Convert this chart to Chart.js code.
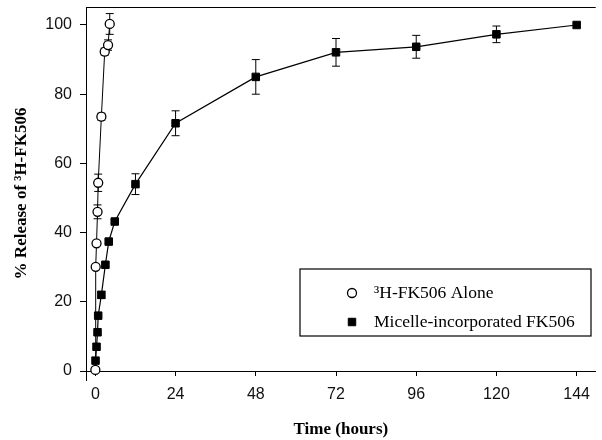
<!DOCTYPE html>
<html>
<head>
<meta charset="utf-8">
<script src="https://cdn.jsdelivr.net/npm/chart.js@4/dist/chart.umd.min.js"></script>
<style>
  html, body { margin: 0; padding: 0; background: #fff; }
</style>
</head>
<body>
<canvas id="chart" width="602" height="440"></canvas>
<script>
// 3H-FK506 alone (open circles)
const aloneTime = [0, 0.1, 0.35, 0.65, 0.85, 1.8, 2.8, 3.8, 4.3]
const aloneRelease = [0.3, 30.1, 36.9, 46.0, 54.4, 73.5, 92.3, 94.2, 100.3]
const aloneErr = [0, 0, 0.5, 2, 2.5, 1, 1, 1.5, 3]

// micelle-incorporated FK506 (filled squares)
const micelleTime = [0.05, 0.35, 0.65, 0.85, 1.8, 3.0, 4.0, 5.8, 12, 24, 48, 72, 96, 120, 144]
const micelleRelease = [3.0, 7.0, 11.2, 16.0, 22.0, 30.7, 37.4, 43.2, 54.0, 71.6, 85.0, 92.1, 93.7, 97.3, 100.0]
const micelleErr = [0, 0, 0, 0, 1, 0.5, 0.5, 0.5, 3, 3.6, 5, 4, 3.3, 2.4, 0]

const xTicks = [0, 24, 48, 72, 96, 120, 144]
const yTicks = [0, 20, 40, 60, 80, 100]
const seriesLabels = ['\u00B3H-FK506 Alone', 'Micelle-incorporated FK506']

const toPoints = (xs, ys) => xs.map((x, i) => ({ x: x, y: ys[i] }))

const errorBars = {
  id: 'errorBars',
  beforeDatasetsDraw(chart) {
    const { ctx, scales: { x, y } } = chart
    ctx.save()
    ctx.strokeStyle = '#000'
    ctx.lineWidth = 1
    chart.data.datasets.forEach((ds) => {
      ds.data.forEach((p, i) => {
        const e = ds.errors[i]
        if (!e) return
        const px = x.getPixelForValue(p.x)
        const top = y.getPixelForValue(p.y + e)
        const bot = y.getPixelForValue(p.y - e)
        ctx.beginPath()
        ctx.moveTo(px, top); ctx.lineTo(px, bot)
        ctx.moveTo(px - 4, top); ctx.lineTo(px + 4, top)
        ctx.moveTo(px - 4, bot); ctx.lineTo(px + 4, bot)
        ctx.stroke()
      })
    })
    ctx.restore()
  }
}

// top frame line + boxed legend inside the plot
const frameLegend = {
  id: 'frameLegend',
  afterDraw(chart, args, opts) {
    const { ctx, chartArea } = chart
    ctx.save()
    ctx.strokeStyle = '#000'
    ctx.lineWidth = 1
    ctx.beginPath()
    ctx.moveTo(chartArea.left, chartArea.top + 0.5)
    ctx.lineTo(chartArea.right, chartArea.top + 0.5)
    ctx.stroke()

    const b = opts.box
    ctx.lineWidth = 1.2
    ctx.strokeRect(b.left, b.top, b.width, b.height)
    ctx.font = opts.font
    ctx.textBaseline = 'middle'
    ctx.textAlign = 'left'
    chart.data.datasets.forEach((ds, i) => {
      const cy = b.top + opts.rowStart + i * opts.rowGap
      ctx.fillStyle = ds.pointBackgroundColor
      ctx.strokeStyle = ds.pointBorderColor
      ctx.lineWidth = ds.pointBorderWidth
      Chart.helpers.drawPoint(ctx, {
        pointStyle: ds.pointStyle,
        radius: ds.pointRadius,
        borderWidth: ds.pointBorderWidth,
        rotation: 0
      }, b.left + opts.markerX, cy)
      ctx.fillStyle = '#000'
      ctx.fillText(ds.label, b.left + opts.textX, cy)
    })
    ctx.restore()
  }
}

const noPad = (s) => {
  s.paddingTop = 0; s.paddingBottom = 0; s.paddingLeft = 0; s.paddingRight = 0
}

new Chart(document.getElementById('chart'), {
  type: 'line',
  data: {
    datasets: [
      {
        label: seriesLabels[0],
        data: toPoints(aloneTime, aloneRelease),
        errors: aloneErr,
        borderColor: '#000',
        borderWidth: 1,
        pointStyle: 'circle',
        pointRadius: 4.5,
        pointBorderWidth: 1.3,
        pointBackgroundColor: '#fff',
        pointBorderColor: '#000',
        tension: 0
      },
      {
        label: seriesLabels[1],
        data: toPoints(micelleTime, micelleRelease),
        errors: micelleErr,
        borderColor: '#000',
        borderWidth: 1.2,
        pointStyle: 'rect',
        pointRadius: 5.3,
        pointBorderWidth: 1,
        pointBackgroundColor: '#000',
        pointBorderColor: '#000',
        tension: 0
      }
    ]
  },
  options: {
    responsive: false,
    animation: false,
    layout: { padding: { top: 7, right: 0, bottom: 60, left: 0 } },
    plugins: {
      legend: { display: false },
      tooltip: { enabled: false },
      frameLegend: {
        box: { left: 300, top: 269, width: 291, height: 67 },
        markerX: 52,
        textX: 74,
        rowStart: 24,
        rowGap: 29,
        font: '17.5px "Liberation Serif", "Times New Roman", serif'
      }
    },
    scales: {
      x: {
        type: 'linear',
        position: { y: 0 },
        min: -2.8,
        max: 149.7,
        afterBuildTicks: (s) => { s.ticks = xTicks.map((v) => ({ value: v })) },
        afterFit: (s) => { s.height = 60; noPad(s) },
        grid: { drawOnChartArea: false, drawTicks: true, tickLength: 4, color: '#000' },
        border: { display: true, color: '#000', width: 1 },
        ticks: {
          padding: 10,
          color: '#111',
          font: { family: '"Liberation Sans", Arial, sans-serif', size: 16 }
        },
        title: {
          display: true,
          text: 'Time (hours)',
          color: '#000',
          padding: { top: 0, bottom: -9 },
          font: { family: '"Liberation Serif", "Times New Roman", serif', size: 17, weight: 'bold' }
        }
      },
      y: {
        type: 'linear',
        min: -2.6,
        max: 105.2,
        afterBuildTicks: (s) => { s.ticks = yTicks.map((v) => ({ value: v })) },
        afterFit: (s) => { s.width = 86; noPad(s) },
        grid: { drawOnChartArea: false, drawTicks: true, tickLength: 6, color: '#000' },
        border: { display: true, color: '#000', width: 1 },
        ticks: {
          padding: 8,
          color: '#111',
          font: { family: '"Liberation Sans", Arial, sans-serif', size: 16 }
        },
        title: {
          display: true,
          text: '% Release of \u00B3H-FK506',
          color: '#000',
          padding: { top: 11, bottom: 0 },
          font: { family: '"Liberation Serif", "Times New Roman", serif', size: 17, weight: 'bold' }
        }
      }
    }
  },
  plugins: [errorBars, frameLegend]
})
</script>
</body>
</html>
